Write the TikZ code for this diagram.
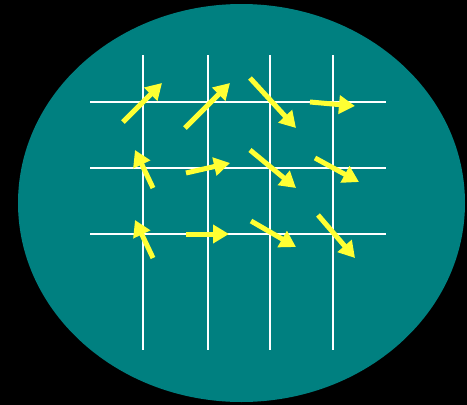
\documentclass[tikz,border=0pt]{standalone}
\usetikzlibrary{arrows.meta}
\definecolor{fieldteal}{HTML}{008080}
\definecolor{vecyellow}{HTML}{FFFF33}

\begin{document}
\begin{tikzpicture}[x=1pt,y=-1pt,
  gridline/.style={white,line width=1.6pt},
  fieldvec/.style={vecyellow,line width=5pt,-{Triangle[length=16pt,width=18pt]}}]
\fill[black] (0,0) rectangle (467,405);
\useasboundingbox (0,0) rectangle (467,405);
\fill[fieldteal] (241.5,203) ellipse [x radius=223.5,y radius=199];
% grid
\foreach \gx in {143,208,270,333}
  \draw[gridline] (\gx,55) -- (\gx,350);
\foreach \gy in {102,168,234}
  \draw[gridline] (90,\gy) -- (386,\gy);
% field vectors (tail / tip)
\foreach \tx/\ty/\hx/\hy [count=\i] in {123/122/162/83, 185/128/230/83, 250/78/296/128, 310/102/355/106,
    153/188/135/150, 186/173/230/163, 250/150/296/188, 315/158/359/182,
    153/258/135/220, 186/234/229/234, 251/221/296/247, 318/215/355/258}{
  \coordinate (tail\i) at (\tx,\ty);
  \coordinate (tip\i) at (\hx,\hy);
  \draw[fieldvec] (tail\i) -- (tip\i);
}
\end{tikzpicture}
\end{document}
